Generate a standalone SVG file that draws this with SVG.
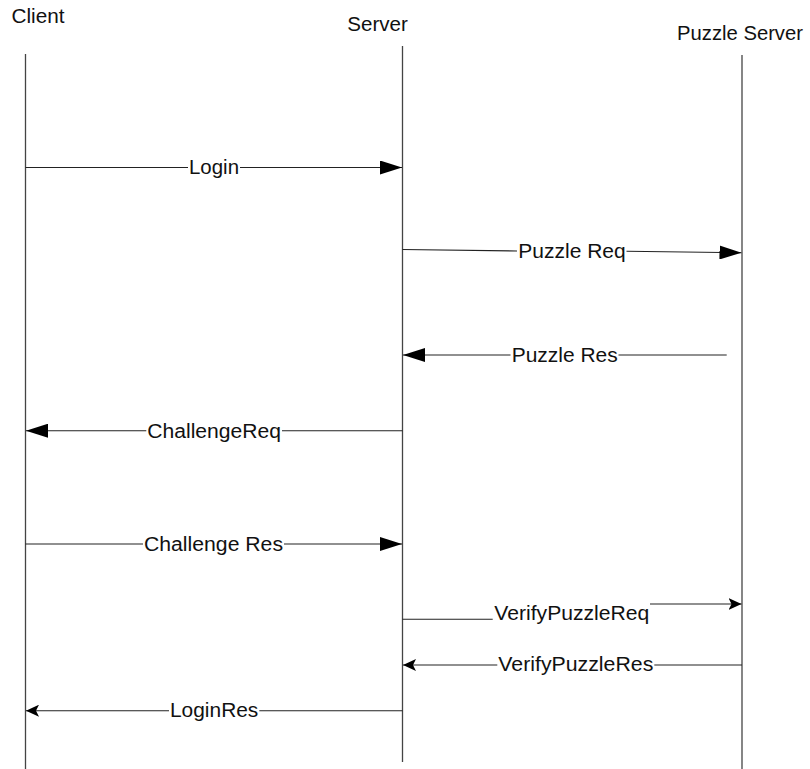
<svg xmlns="http://www.w3.org/2000/svg" width="810" height="769" viewBox="0 0 810 769">
<style>
  text { font-family: "Liberation Sans", Arial, sans-serif; font-size: 20px; fill: #111; }
  .life { stroke: #444; stroke-width: 1.3; fill: none; }
  .msg { stroke: #222; stroke-width: 1.1; fill: none; }
  .big { marker-end: url(#ahBig); }
  .small { marker-end: url(#ahSmall); }
</style>
<defs>
  <marker id="ahBig" markerUnits="userSpaceOnUse" markerWidth="22" markerHeight="14" refX="22" refY="7" orient="auto">
    <path d="M0,0 L22,7 L0,14 Z" fill="#000"/>
  </marker>
  <marker id="ahSmall" markerUnits="userSpaceOnUse" markerWidth="13" markerHeight="12" refX="13" refY="6" orient="auto">
    <path d="M0,0 L13,6 L0,12 L3,6 Z" fill="#000"/>
  </marker>
</defs>

<g id="client">
  <text x="11.5" y="23" textLength="53" lengthAdjust="spacingAndGlyphs">Client</text>
  <line class="life" x1="25.5" y1="54" x2="25.5" y2="769"/>
</g>
<g id="server">
  <text x="347.3" y="31" textLength="60.6" lengthAdjust="spacingAndGlyphs">Server</text>
  <line class="life" x1="402.5" y1="46" x2="402.5" y2="762"/>
</g>
<g id="puzzle-server">
  <text x="677" y="39.5" textLength="126" lengthAdjust="spacingAndGlyphs">Puzzle Server</text>
  <line class="life" x1="742" y1="55" x2="742" y2="769"/>
</g>

<g id="connectors">
  <!-- Login -->
  <line class="msg" x1="25.5" y1="167.5" x2="188" y2="167.5"/>
  <line class="msg big" x1="240" y1="167.5" x2="402" y2="167.5"/>
  <text x="189" y="174" textLength="50" lengthAdjust="spacingAndGlyphs">Login</text>

  <!-- Puzzle Req -->
  <line class="msg" x1="402.5" y1="249.5" x2="517" y2="251"/>
  <line class="msg big" x1="626.5" y1="251.3" x2="741.5" y2="252.7"/>
  <text x="518.3" y="257.5" textLength="107.4" lengthAdjust="spacingAndGlyphs">Puzzle Req</text>

  <!-- Puzzle Res -->
  <line class="msg" x1="726.7" y1="355" x2="618.5" y2="355"/>
  <line class="msg big" x1="510.5" y1="355" x2="403" y2="355"/>
  <text x="511.7" y="362" textLength="106" lengthAdjust="spacingAndGlyphs">Puzzle Res</text>

  <!-- ChallengeReq -->
  <line class="msg" x1="402.5" y1="430.7" x2="282" y2="430.7"/>
  <line class="msg big" x1="146.3" y1="430.7" x2="26" y2="430.7"/>
  <text x="147.3" y="438" textLength="133.7" lengthAdjust="spacingAndGlyphs">ChallengeReq</text>

  <!-- Challenge Res -->
  <line class="msg" x1="25.5" y1="544" x2="143" y2="544"/>
  <line class="msg big" x1="284" y1="544" x2="402" y2="544"/>
  <text x="144" y="551" textLength="139" lengthAdjust="spacingAndGlyphs">Challenge Res</text>

  <!-- VerifyPuzzleReq -->
  <line class="msg" x1="402.5" y1="619.3" x2="492.7" y2="619.3"/>
  <line class="msg small" x1="650" y1="604" x2="741.5" y2="604"/>
  <text x="494.3" y="619.5" textLength="155" lengthAdjust="spacingAndGlyphs">VerifyPuzzleReq</text>

  <!-- VerifyPuzzleRes -->
  <line class="msg" x1="742" y1="665" x2="654.3" y2="665"/>
  <line class="msg small" x1="497.3" y1="665" x2="403" y2="665"/>
  <text x="498.3" y="671" textLength="155" lengthAdjust="spacingAndGlyphs">VerifyPuzzleRes</text>

  <!-- LoginRes -->
  <line class="msg" x1="402.5" y1="710.7" x2="259.3" y2="710.7"/>
  <line class="msg small" x1="169" y1="710.7" x2="26" y2="710.7"/>
  <text x="170" y="717" textLength="88.3" lengthAdjust="spacingAndGlyphs">LoginRes</text>
</g>
</svg>
